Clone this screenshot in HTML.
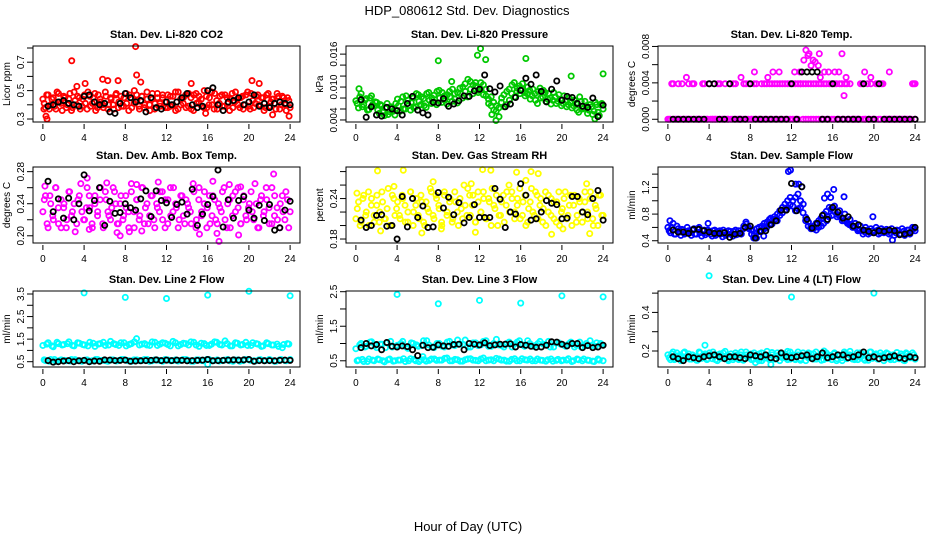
<!DOCTYPE html>
<html><head><meta charset="utf-8"><style>
html,body{margin:0;padding:0;background:#fff;}
svg{display:block;font-family:"Liberation Sans",Arial,sans-serif;}
</style></head><body>
<svg id="chart" width="936" height="540" viewBox="0 0 936 540" xmlns="http://www.w3.org/2000/svg">
<text x="467" y="15" text-anchor="middle" font-size="13">HDP_080612  Std. Dev. Diagnostics</text>
<text x="468" y="531" text-anchor="middle" font-size="13">Hour of Day (UTC)</text>
</svg>
<script>
// ---- data ----
const xTicks = [0,4,8,12,16,20,24];
const panelTitles = ["Stan. Dev. Li-820 CO2","Stan. Dev. Li-820 Pressure","Stan. Dev. Li-820 Temp.","Stan. Dev. Amb. Box Temp.","Stan. Dev. Gas Stream RH","Stan. Dev. Sample Flow","Stan. Dev. Line 2 Flow","Stan. Dev. Line 3 Flow","Stan. Dev. Line 4 (LT) Flow"];
const yTitles = ["Licor ppm","kPa","degrees C","degrees C","percent","ml/min","ml/min","ml/min","ml/min"];

const co2Color = [0.44,0.38,0.47,0.40,0.45,0.37,0.48,0.41,0.46,0.38,0.44,0.36,0.49,0.40,0.45,0.39,0.47,0.37,0.46,0.41,0.48,0.38,0.44,0.40,0.49,0.37,0.45,0.40,0.47,0.38,0.46,0.39,0.48,0.36,0.45,0.41,0.47,0.39,0.46,0.38,0.49,0.40,0.44,0.37,0.48,0.41,0.45,0.38,0.47,0.39,0.46,0.36,0.49,0.40,0.45,0.38,0.48,0.37,0.47,0.41,0.46,0.39,0.50,0.38,0.45,0.40,0.48,0.37,0.46,0.39,0.47,0.41,0.44,0.38,0.49,0.40,0.45,0.37,0.47,0.39,0.48,0.38,0.46,0.40,0.45,0.36,0.47,0.39,0.44,0.41,0.48,0.37,0.46,0.40,0.45,0.38];
const co2Color2 = [0.41,0.47,0.37,0.44,0.39,0.49,0.42,0.36,0.45,0.40,0.48,0.38,0.43,0.46,0.37,0.44,0.41,0.49,0.39,0.45,0.36,0.47,0.42,0.38,0.46,0.40,0.44,0.37,0.48,0.42,0.39,0.45,0.41,0.47,0.38,0.50,0.43,0.37,0.46,0.40,0.44,0.36,0.48,0.41,0.45,0.39,0.47,0.42,0.38,0.46,0.40,0.49,0.37,0.44,0.41,0.47,0.39,0.45,0.36,0.48,0.42,0.44,0.38,0.46,0.40,0.49,0.37,0.43,0.41,0.47,0.39,0.45,0.36,0.48,0.42,0.44,0.38,0.46,0.40,0.49,0.37,0.43,0.41,0.47,0.39,0.45,0.38,0.48,0.42,0.44,0.37,0.46,0.40,0.45,0.36,0.43];
const co2OutX = [0.1,0.3,0.4,2.8,3.3,4.1,5.8,6.3,7.3,9.0,9.1,9.5,14.4,15.8,20.3,21.0,22.3,23.9];
const co2OutY = [0.37,0.32,0.30,0.71,0.53,0.55,0.58,0.57,0.57,0.81,0.61,0.56,0.55,0.34,0.57,0.55,0.33,0.32];
const co2Black = [0.39,0.40,0.42,0.43,0.41,0.40,0.39,0.46,0.47,0.42,0.40,0.41,0.35,0.34,0.41,0.48,0.45,0.42,0.43,0.35,0.45,0.38,0.37,0.42,0.40,0.42,0.45,0.48,0.40,0.38,0.39,0.50,0.52,0.40,0.36,0.42,0.43,0.45,0.40,0.42,0.47,0.39,0.41,0.38,0.41,0.42,0.41,0.40];

const presColor = [7.5,6.2,8.8,6.8,7.9,5.9,8.4,6.6,7.2,5.2,6.6,4.8,7.0,5.5,6.2,4.9,7.8,5.6,8.2,6.0,7.6,5.8,8.0,6.4,8.6,6.8,7.9,6.3,9.0,7.0,8.5,6.8,9.4,7.2,8.4,6.9,9.2,7.4,8.8,7.1,9.8,8.0,10.6,8.2,11.0,8.8,10.2,9.0,10.8,8.6,9.6,7.0,8.2,5.8,6.6,4.6,8.0,6.4,9.2,7.6,10.4,8.2,9.8,8.8,10.6,8.4,10.0,7.8,9.6,7.6,9.2,8.0,9.4,7.4,8.8,6.9,9.0,7.0,8.6,6.6,8.4,6.4,8.0,6.2,7.6,5.8,8.2,6.0,7.4,5.2,6.8,5.0,7.2,5.4,6.8,6.0];
const presColor2 = [7.0,8.2,6.4,7.6,5.8,8.0,6.8,7.3,5.8,6.8,5.4,6.2,5.0,6.4,5.6,7.0,6.6,7.4,6.0,8.4,6.6,7.2,6.2,8.8,7.4,8.2,6.6,8.8,7.6,8.0,7.2,9.2,8.0,9.0,7.6,8.6,8.2,9.6,7.8,9.0,8.8,10.0,9.2,11.4,9.6,10.4,10.8,9.4,9.6,10.4,8.4,7.8,6.6,7.2,5.6,6.2,7.2,8.6,6.8,9.6,8.8,10.8,9.2,10.2,9.6,9.0,8.8,9.4,8.4,8.8,7.0,9.8,8.2,9.0,7.8,8.0,7.6,8.2,7.4,7.8,7.0,7.6,6.8,7.2,6.6,7.0,5.4,7.4,6.2,6.6,5.8,6.4,5.6,6.8,4.8,7.0];
const presOutX = [8.0,11.8,12.1,12.6,16.5,13.6,24.0,20.9,9.3,23.2,0.3,13.2];
const presOutY = [14.8,15.8,17.0,15.0,15.2,3.9,12.4,12.0,11.0,4.2,9.7,5.0];
const presBlack = [7.7,4.5,6.4,4.9,4.7,6.3,6.0,5.7,4.9,7.0,8.3,5.8,5.3,4.9,7.2,7.1,7.9,6.5,6.9,7.5,8.4,8.3,9.3,9.6,12.2,9.7,9.1,10.2,6.4,6.9,8.1,9.4,11.6,10.5,12.2,9.2,7.3,9.6,11.1,7.6,8.3,8.1,7.0,6.5,6.3,8.0,4.6,6.7];

const tempColor = [0,0,3.9,0,3.9,0,0,0,3.9,0,3.9,0,0,0,3.9,0,3.9,0,0,0,3.9,0,3.9,0,3.9,0,3.9,0,0,0,3.9,0,0,0,3.9,0,3.9,0,3.9,0,3.9,0,3.9,0,3.9,0,3.9,0,3.9,0,3.9,3.9,3.9,0,3.9,0,3.9,0,3.9,0,3.9,0,3.9,0,3.9,0,3.9,0,3.9,0,3.9,0,0,0,3.9,0,0,0,3.9,0,3.9,0,3.9,0,0,0,0,0,0,0,0,0,0,0,3.9,0];
const tempColor2 = [0,3.9,0,0,0,3.9,0,0,0,3.9,0,0,0,3.9,0,0,0,0,0,3.9,0,0,0,0,0,3.9,0,0,0,3.9,0,3.9,0,3.9,0,0,0,3.9,0,3.9,0,3.9,0,3.9,0,3.9,0,3.9,0,3.9,0,3.9,0,3.9,0,3.9,0,3.9,0,3.9,0,3.9,0,3.9,0,3.9,0,3.9,0,3.9,0,0,0,0,0,3.9,0,3.9,0,0,0,3.9,0,3.9,0,0,0,0,0,0,0,0,0,0,0,3.9];
const tempOutX = [1.8,7.1,10.2,12.3,12.8,13.2,13.4,13.7,14.1,14.3,14.6,14.7,13.6,15.2,16.2,16.6,16.9,17.1,17.3,14.8,19.1,19.7,21.5,24.0,9.7,8.4,10.8,15.6,13.9];
const tempOutY = [4.6,4.6,5.2,5.2,5.2,6.5,7.6,7.2,6.5,6.3,5.9,7.2,7.0,5.2,5.2,5.2,7.2,2.6,4.6,4.6,5.2,4.6,5.2,3.9,4.6,5.2,5.2,5.2,5.9];
const tempBlack = [0,0,0,0,0,0,0,3.9,3.9,0,0,3.9,0,0,0,3.9,0,0,0,0,0,0,0,3.9,0,5.2,5.2,5.2,5.2,0,0,3.9,0,0,0,0,0,3.9,0,0,3.9,0,0,0,0,0,0,0];

const boxColor = [0.23,0.25,0.21,0.24,0.22,0.26,0.215,0.245,0.235,0.21,0.255,0.225,0.24,0.215,0.25,0.23,0.22,0.26,0.235,0.21,0.25,0.225,0.245,0.215,0.255,0.23,0.22,0.26,0.24,0.215,0.25,0.225,0.235,0.21,0.255,0.23,0.245,0.22,0.26,0.215,0.24,0.225,0.25,0.21,0.235,0.255,0.22,0.245,0.215,0.26,0.23,0.24,0.21,0.25,0.225,0.245,0.235,0.215,0.255,0.22,0.26,0.23,0.24,0.21,0.25,0.225,0.245,0.215,0.235,0.255,0.22,0.24,0.21,0.25,0.23,0.26,0.215,0.245,0.225,0.235,0.255,0.22,0.24,0.21,0.25,0.23,0.245,0.215,0.26,0.225,0.235,0.21,0.25,0.22,0.245,0.23];
const boxColor2 = [0.245,0.215,0.25,0.225,0.26,0.235,0.21,0.24,0.22,0.255,0.23,0.205,0.245,0.265,0.22,0.235,0.25,0.215,0.24,0.23,0.26,0.21,0.245,0.225,0.235,0.255,0.215,0.24,0.22,0.25,0.23,0.265,0.21,0.245,0.225,0.26,0.235,0.215,0.25,0.22,0.24,0.23,0.255,0.21,0.245,0.225,0.26,0.235,0.22,0.25,0.215,0.24,0.23,0.265,0.21,0.245,0.225,0.255,0.235,0.215,0.25,0.22,0.24,0.23,0.26,0.21,0.245,0.225,0.255,0.235,0.215,0.25,0.22,0.24,0.23,0.265,0.21,0.245,0.225,0.26,0.235,0.215,0.25,0.22,0.24,0.23,0.255,0.21];
const boxOutX = [0.2,4.3,4.5,6.2,7.2,7.5,8.4,9.1,9.6,11.2,15.2,16.5,17.1,18.1,19.0,19.2,22.4,16.9];
const boxOutY = [0.262,0.272,0.208,0.266,0.204,0.200,0.205,0.264,0.206,0.267,0.202,0.268,0.193,0.264,0.201,0.261,0.277,0.203];
const boxBlack = [0.268,0.230,0.246,0.222,0.247,0.220,0.240,0.276,0.231,0.244,0.260,0.213,0.243,0.228,0.229,0.240,0.235,0.232,0.246,0.256,0.224,0.256,0.244,0.241,0.223,0.239,0.242,0.227,0.258,0.213,0.227,0.239,0.249,0.282,0.211,0.245,0.222,0.244,0.249,0.232,0.222,0.238,0.219,0.239,0.207,0.210,0.232,0.243];

const rhColor = [0.21,0.235,0.205,0.245,0.22,0.2,0.24,0.215,0.23,0.205,0.25,0.21,0.225,0.2,0.245,0.215,0.235,0.21,0.24,0.205,0.22,0.25,0.2,0.23,0.215,0.245,0.205,0.235,0.22,0.25,0.21,0.24,0.225,0.2,0.245,0.215,0.235,0.205,0.25,0.22,0.24,0.21,0.23,0.255,0.215,0.245,0.205,0.235,0.22,0.25,0.21,0.24,0.2,0.23,0.245,0.215,0.235,0.205,0.25,0.22,0.24,0.21,0.23,0.255,0.215,0.245,0.205,0.235,0.22,0.25,0.21,0.24,0.225,0.2,0.245,0.215,0.235,0.205,0.25,0.22,0.24,0.21,0.23,0.2,0.245,0.215,0.235,0.205,0.25,0.22,0.24,0.21,0.23,0.2,0.245,0.215];
const rhColor2 = [0.225,0.2,0.24,0.215,0.25,0.23,0.205,0.245,0.22,0.235,0.21,0.255,0.2,0.24,0.225,0.215,0.245,0.23,0.205,0.25,0.22,0.24,0.21,0.235,0.2,0.225,0.255,0.215,0.245,0.23,0.205,0.25,0.22,0.24,0.21,0.235,0.2,0.225,0.26,0.215,0.245,0.23,0.205,0.25,0.22,0.24,0.21,0.235,0.255,0.225,0.2,0.215,0.245,0.23,0.26,0.25,0.22,0.24,0.21,0.235,0.2,0.225,0.255,0.215,0.245,0.23,0.205,0.25,0.22,0.24,0.21,0.235,0.2,0.225,0.25,0.215,0.245,0.23,0.205,0.24,0.22,0.235,0.21,0.25,0.2,0.225,0.245,0.215];
const rhOutX = [2.1,3.7,4.6,2.4,6.4,7.5,11.2,11.6,12.3,13.1,15.6,16.5,17.0,17.7,19.0,20.1,22.4,22.7,0.1,8.3];
const rhOutY = [0.281,0.258,0.282,0.192,0.189,0.265,0.262,0.190,0.283,0.282,0.279,0.267,0.280,0.277,0.187,0.195,0.262,0.188,0.248,0.195];
const rhBlack = [0.208,0.197,0.200,0.215,0.216,0.199,0.200,0.180,0.243,0.198,0.240,0.212,0.229,0.197,0.198,0.249,0.226,0.242,0.216,0.234,0.204,0.212,0.231,0.212,0.212,0.212,0.255,0.239,0.197,0.220,0.217,0.262,0.245,0.208,0.210,0.220,0.237,0.233,0.231,0.210,0.211,0.243,0.243,0.220,0.216,0.240,0.252,0.208];

const flowColor = [0.6,0.52,0.66,0.5,0.58,0.48,0.56,0.52,0.55,0.48,0.58,0.5,0.6,0.47,0.56,0.52,0.54,0.47,0.56,0.5,0.55,0.46,0.53,0.5,0.54,0.47,0.56,0.5,0.52,0.58,0.68,0.6,0.56,0.44,0.52,0.6,0.55,0.66,0.6,0.72,0.65,0.76,0.7,0.85,0.82,0.95,0.9,1.05,1.0,0.85,1.1,0.9,0.95,0.75,0.68,0.58,0.62,0.56,0.7,0.62,0.8,0.7,0.9,0.78,0.92,0.76,0.85,0.7,0.8,0.66,0.72,0.6,0.66,0.55,0.62,0.5,0.6,0.5,0.58,0.52,0.6,0.5,0.58,0.52,0.57,0.5,0.58,0.48,0.56,0.5,0.58,0.48,0.56,0.5,0.6,0.55];
const flowColor2 = [0.55,0.6,0.5,0.62,0.53,0.57,0.5,0.6,0.52,0.56,0.5,0.58,0.52,0.55,0.49,0.56,0.5,0.55,0.48,0.54,0.5,0.56,0.48,0.55,0.5,0.54,0.49,0.55,0.5,0.62,0.65,0.58,0.5,0.48,0.58,0.54,0.62,0.58,0.68,0.64,0.7,0.72,0.8,0.78,0.9,0.86,1.0,0.94,0.92,1.05,0.88,1.0,0.82,0.7,0.62,0.6,0.58,0.66,0.6,0.74,0.66,0.84,0.76,0.88,0.84,0.8,0.78,0.74,0.7,0.68,0.64,0.62,0.6,0.58,0.56,0.55,0.53,0.56,0.52,0.55,0.54,0.56,0.52,0.55,0.53,0.55,0.52,0.54,0.52,0.55,0.5,0.54,0.52,0.56,0.54,0.58];
const flowOutX = [11.7,11.9,12.4,12.7,13.0,15.2,15.5,15.8,16.1,17.1,19.9,21.8,9.3,10.0,8.6,0.2,3.9];
const flowOutY = [1.44,1.46,1.25,1.25,1.21,1.04,1.10,1.05,1.17,1.06,0.76,0.41,0.47,0.74,0.44,0.70,0.66];
const flowBlack = [0.56,0.53,0.53,0.51,0.57,0.57,0.55,0.53,0.51,0.51,0.52,0.45,0.50,0.51,0.60,0.62,0.44,0.54,0.55,0.64,0.70,0.86,0.86,1.26,0.85,1.21,0.72,0.59,0.66,0.78,0.72,0.90,0.83,0.74,0.76,0.62,0.64,0.56,0.54,0.52,0.55,0.54,0.56,0.55,0.49,0.50,0.52,0.60];

const l2Color = [1.22,0.55,1.34,0.6,1.16,0.52,1.3,0.58,1.26,0.54,1.38,0.6,1.2,0.55,1.32,0.52,1.24,0.58,1.36,0.54,1.18,0.6,1.3,0.56,1.22,0.52,1.4,0.58,1.26,0.55,1.34,0.6,1.2,0.54,1.3,0.58,1.52,0.55,1.28,0.6,1.24,0.52,1.38,0.58,1.22,0.55,1.34,0.6,1.26,0.54,1.4,0.58,1.2,0.56,1.32,0.6,1.24,0.52,1.36,0.58,1.18,0.55,1.3,0.6,1.22,0.54,1.38,0.58,1.26,0.55,1.42,0.6,1.2,0.52,1.34,0.58,1.24,0.55,1.36,0.6,1.22,0.54,1.3,0.58,1.18,0.55,1.34,0.6,1.24,0.52,1.28,0.58,1.12,0.55,1.3,0.6];
const l2Color2 = [0.58,1.28,0.52,1.2,0.6,1.36,0.55,1.24,0.56,1.3,0.53,1.22,0.59,1.34,0.54,1.26,0.57,1.2,0.52,1.32,0.6,1.28,0.55,1.36,0.54,1.24,0.58,1.3,0.53,1.22,0.6,1.34,0.56,1.26,0.52,1.38,0.58,1.24,0.55,1.3,0.6,1.22,0.54,1.36,0.57,1.28,0.52,1.32,0.58,1.2,0.55,1.34,0.53,1.26,0.6,1.3,0.56,1.38,0.52,1.24,0.58,1.32,0.54,1.22,0.6,1.28,0.55,1.36,0.53,1.24,0.57,1.3,0.54,1.2,0.58,1.32,0.52,1.26,0.6,1.22,0.56,1.34,0.53,1.28,0.59,1.2,0.55,1.3,0.57,1.24,0.52,1.18,0.6,1.26,0.54,1.28];
const l2OutX = [4,8,12,16,20,24,16];
const l2OutY = [3.55,3.35,3.30,3.45,3.62,3.42,0.38];
const l2Black = [0.55,0.48,0.5,0.53,0.55,0.5,0.54,0.56,0.5,0.53,0.52,0.58,0.57,0.55,0.56,0.57,0.52,0.53,0.54,0.55,0.56,0.58,0.55,0.57,0.55,0.57,0.56,0.54,0.55,0.56,0.57,0.6,0.54,0.55,0.56,0.57,0.58,0.57,0.58,0.6,0.52,0.55,0.54,0.55,0.54,0.56,0.57,0.56];

const l3Color = [0.85,0.52,1.0,0.48,0.92,0.55,1.05,0.5,0.88,0.53,0.98,0.47,1.02,0.55,0.9,0.5,0.95,0.52,1.06,0.48,0.86,0.56,1.0,0.5,0.92,0.53,1.08,0.49,0.96,0.55,0.88,0.51,1.0,0.52,0.9,0.58,1.06,0.5,0.94,0.53,0.98,0.49,1.1,0.55,0.9,0.52,1.02,0.5,0.96,0.58,1.08,0.52,0.92,0.5,1.12,0.55,0.94,0.52,1.0,0.49,0.9,0.56,1.04,0.5,0.96,0.53,1.08,0.55,0.92,0.5,1.0,0.52,0.98,0.49,1.06,0.55,0.9,0.51,1.02,0.5,0.95,0.52,1.0,0.48,0.9,0.55,1.04,0.5,0.94,0.52,1.08,0.49,0.92,0.55,1.0,0.5];
const l3Color2 = [0.5,0.96,0.54,0.9,0.48,1.04,0.52,0.94,0.55,0.98,0.5,0.88,0.53,1.06,0.49,0.92,0.52,1.0,0.56,0.9,0.5,1.02,0.54,0.96,0.48,0.94,0.53,1.08,0.51,0.9,0.55,1.0,0.52,0.92,0.57,1.04,0.5,0.96,0.54,1.1,0.49,0.98,0.53,0.9,0.56,1.02,0.51,0.94,0.55,1.06,0.5,0.92,0.53,1.0,0.57,0.96,0.52,0.9,0.49,1.04,0.54,0.98,0.5,1.08,0.56,0.92,0.52,1.0,0.5,0.94,0.55,1.06,0.51,0.96,0.53,0.9,0.49,1.02,0.54,0.98,0.52,0.92,0.56,1.04,0.5,0.96,0.53,0.9,0.55,1.0,0.51,0.94,0.48,1.02,0.52,0.96];
const l3OutX = [4,8,12,16,20,24,6.5];
const l3OutY = [2.42,2.15,2.25,2.17,2.38,2.35,0.62];
const l3Black = [0.88,1.0,0.93,0.97,0.82,1.03,0.92,0.9,0.93,0.91,0.82,0.65,0.95,0.88,0.89,0.96,0.93,0.92,0.97,0.98,0.82,1.0,0.98,0.96,1.02,0.94,0.96,0.98,0.98,0.99,0.9,0.97,0.95,0.92,0.89,0.9,0.95,1.05,1.04,0.98,0.93,1.0,1.0,0.88,0.94,0.88,0.9,0.95];

const l4Color = [0.18,0.155,0.195,0.16,0.175,0.15,0.19,0.165,0.185,0.158,0.17,0.152,0.195,0.162,0.178,0.155,0.19,0.16,0.175,0.15,0.185,0.165,0.198,0.158,0.172,0.155,0.19,0.16,0.18,0.152,0.195,0.165,0.185,0.158,0.175,0.15,0.19,0.162,0.178,0.155,0.192,0.16,0.175,0.15,0.185,0.165,0.198,0.158,0.18,0.155,0.195,0.16,0.175,0.15,0.19,0.165,0.185,0.158,0.17,0.152,0.2,0.162,0.178,0.155,0.19,0.16,0.175,0.15,0.185,0.165,0.198,0.158,0.172,0.155,0.19,0.16,0.18,0.152,0.195,0.165,0.185,0.158,0.175,0.15,0.19,0.162,0.178,0.155,0.192,0.16,0.175,0.15,0.185,0.165,0.19,0.158];
const l4Color2 = [0.165,0.185,0.155,0.19,0.17,0.16,0.195,0.175,0.158,0.18,0.17,0.152,0.19,0.165,0.185,0.16,0.175,0.195,0.155,0.18,0.162,0.19,0.17,0.15,0.185,0.165,0.178,0.155,0.195,0.16,0.18,0.17,0.155,0.19,0.165,0.185,0.15,0.175,0.198,0.16,0.18,0.158,0.19,0.17,0.165,0.185,0.155,0.195,0.17,0.16,0.18,0.152,0.19,0.175,0.165,0.185,0.158,0.195,0.17,0.18,0.155,0.19,0.162,0.175,0.185,0.15,0.178,0.165,0.195,0.16,0.18,0.17,0.155,0.19,0.168,0.185,0.152,0.175,0.195,0.162,0.18,0.158,0.19,0.17,0.165,0.185,0.155,0.18,0.17,0.16,0.185,0.152,0.19,0.175,0.165,0.18];
const l4OutX = [4,12,20,3.6,8.5,10];
const l4OutY = [0.59,0.48,0.50,0.23,0.14,0.13];
const l4Black = [0.17,0.16,0.15,0.17,0.165,0.16,0.17,0.175,0.18,0.17,0.16,0.17,0.17,0.165,0.16,0.18,0.175,0.17,0.18,0.165,0.16,0.19,0.17,0.165,0.17,0.175,0.18,0.16,0.17,0.19,0.165,0.17,0.18,0.18,0.165,0.17,0.18,0.195,0.165,0.17,0.16,0.165,0.17,0.175,0.165,0.16,0.17,0.165];

const yTickVals = [[0.3,0.4,0.5,0.6,0.7,0.8],[4,6,8,10,12,14,16],[0,2,4,6,8],[0.20,0.22,0.24,0.26,0.28],[0.18,0.20,0.22,0.24,0.26,0.28],[0.4,0.6,0.8,1.0,1.2,1.4],[0.5,1.0,1.5,2.0,2.5,3.0,3.5],[0.5,1.0,1.5,2.0,2.5],[0.2,0.3,0.4,0.5]];
const yTickLabels = [["0.3","","0.5","","0.7",""],["0.004","","","0.010","","","0.016"],["0.000","","0.004","","0.008"],["0.20","","0.24","","0.28"],["0.18","","","0.24","",""],["0.4","","0.8","","1.2",""],["0.5","","1.5","","2.5","","3.5"],["0.5","","1.5","","2.5"],["0.2","","0.4",""]];
const yLimits = [[0.279,0.814],[3.63,17.48],[-0.3,8.05],[0.191,0.2858],[0.1741,0.2868],[0.366,1.507],[0.265,3.633],[0.32,2.52],[0.117,0.511]];
const colorSeries = [co2Color,presColor,tempColor,boxColor,rhColor,flowColor,l2Color,l3Color,l4Color];
const colorSeries2 = [co2Color2,presColor2,tempColor2,boxColor2,rhColor2,flowColor2,l2Color2,l3Color2,l4Color2];
const outX = [co2OutX,presOutX,tempOutX,boxOutX,rhOutX,flowOutX,l2OutX,l3OutX,l4OutX];
const outY = [co2OutY,presOutY,tempOutY,boxOutY,rhOutY,flowOutY,l2OutY,l3OutY,l4OutY];
const blackSeries = [co2Black,presBlack,tempBlack,boxBlack,rhBlack,flowBlack,l2Black,l3Black,l4Black];

// ---- layout / style ----
const NS = "http://www.w3.org/2000/svg";
const svg = document.getElementById("chart");
const colLeft = [33,346,658], boxW = 267;
const rowTop = [46,167,291], boxH = 76;
const colors = ["#ff0000","#00c800","#ff00ff","#ff00ff","#ffff00","#0000ff","#00ffff","#00ffff","#00ffff"];
const slugs = ["co2","pressure","temp","box-temp","rh","sample-flow","line2-flow","line3-flow","line4-flow"];
const R_PT = 2.6;

function mk(tag, attrs, parent){
  const e = document.createElementNS(NS, tag);
  for (const k in attrs) e.setAttribute(k, attrs[k]);
  parent.appendChild(e);
  return e;
}

for (let p = 0; p < 9; p++) {
  const L = colLeft[p % 3], T = rowTop[Math.floor(p / 3)], R = L + boxW, B = T + boxH;
  const [y0, y1] = yLimits[p];
  const xs = v => L + (v + 0.96) / 25.92 * boxW;
  const ys = v => B - (v - y0) / (y1 - y0) * boxH;
  const g = mk("g", {}, svg);
  
  

  const t = mk("text", {x: (L + R) / 2, y: T - 8, "text-anchor": "middle", "font-size": "11", "font-weight": "bold"}, g);
  t.textContent = panelTitles[p];
  
  

  const yt = mk("text", {transform: `translate(${L - 23},${(T + B) / 2}) rotate(-90)`, "text-anchor": "middle", "font-size": "10"}, g);
  yt.textContent = yTitles[p];
  
  

  const cg = mk("g", {fill: "none", stroke: colors[p], "stroke-width": "1.8"}, g);
  
  
  const cs = colorSeries[p];
  for (let i = 0; i < cs.length; i++) {
    const c = mk("circle", {cx: xs(i * 24 / (cs.length - 1)), cy: ys(cs[i]), r: R_PT}, cg);
    
    
  }
  const cs2 = colorSeries2[p];
  for (let i = 0; i < cs2.length; i++) {
    const c = mk("circle", {cx: xs((i + 0.5) * 24 / cs2.length), cy: ys(cs2[i]), r: R_PT}, cg);
    
    
  }
  for (let i = 0; i < outX[p].length; i++) {
    const c = mk("circle", {cx: xs(outX[p][i]), cy: ys(outY[p][i]), r: R_PT}, cg);
    
    
  }
  const bg = mk("g", {fill: "none", stroke: "#000", "stroke-width": "1.8"}, g);
  
  
  const bs = blackSeries[p];
  for (let i = 0; i < bs.length; i++) {
    const c = mk("circle", {cx: xs((i + 1) * 24 / bs.length), cy: ys(bs[i]), r: R_PT}, bg);
    
    
  }

  const box = mk("rect", {x: L, y: T, width: boxW, height: boxH, fill: "none", stroke: "#000", "stroke-width": "1"}, g);
  
  

  const xa = mk("g", {stroke: "#000", "stroke-width": "1"}, g);
  
  
  xTicks.forEach(v => {
    mk("line", {x1: xs(v), x2: xs(v), y1: B + 2, y2: B + 7}, xa);
    const tl = mk("text", {x: xs(v), y: B + 19, "text-anchor": "middle", "font-size": "10", stroke: "none", fill: "#000"}, xa);
    tl.textContent = v;
    
    
  });
  const ya = mk("g", {stroke: "#000", "stroke-width": "1"}, g);
  
  
  yTickVals[p].forEach((v, i) => {
    mk("line", {x1: L - 6, x2: L, y1: ys(v), y2: ys(v)}, ya);
    if (yTickLabels[p][i]) {
      const tl = mk("text", {transform: `translate(${L - 9},${ys(v)}) rotate(-90)`, "text-anchor": "middle", "font-size": "10", stroke: "none", fill: "#000"}, ya);
      tl.textContent = yTickLabels[p][i];
      
      
    }
  });
}
</script>
</body></html>
